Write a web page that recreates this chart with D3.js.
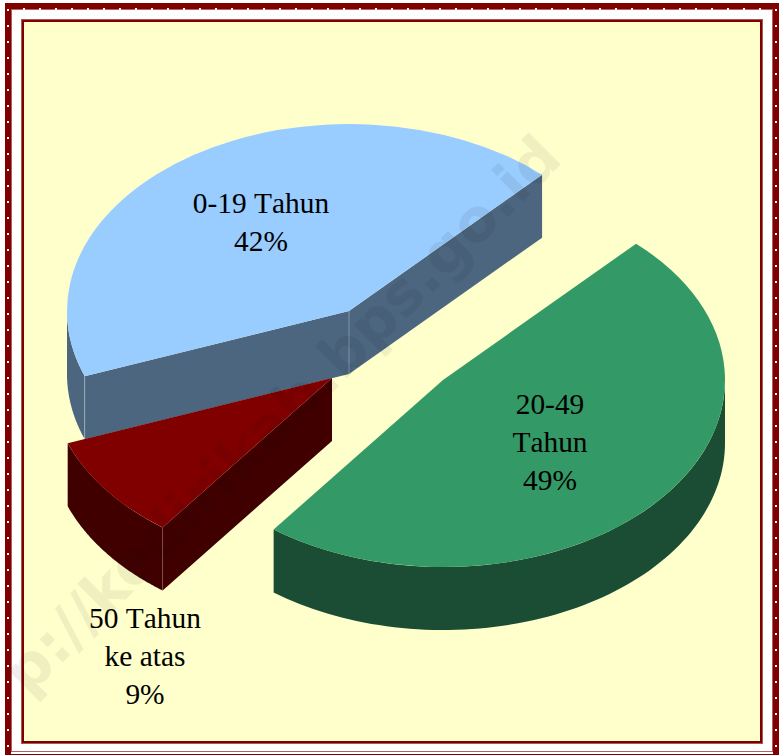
<!DOCTYPE html>
<html><head><meta charset="UTF-8">
<style>
html, body { margin: 0; padding: 0; background: #fff; }
svg { display: block; }
.label { font-family: "Liberation Serif", serif; font-size: 29.4px; fill: #000; text-anchor: middle; font-kerning: none; }
.mark { font-family: "DejaVu Sans", sans-serif; font-weight: bold; font-size: 59.5px; fill: #000; opacity: .06; text-anchor: end; }
</style>
<script src="https://cdn.jsdelivr.net/npm/d3@7"></script>
</head><body>
<div id="chart"></div>
<script>
// chart values, slices go clockwise from the blue one
// shares are read off the drawn slices, percents are the printed labels
var categories = [["0-19 Tahun"], ["20-49", "Tahun"], ["50 Tahun", "ke atas"]];
var shares = [42.67, 48.25, 9.08];
var percents = ["42%", "49%", "9%"];
var topColors = ["#99ccff", "#339966", "#800000"];
var sideColors = ["#4d6680", "#1a4d33", "#400000"];

var width = 782, height = 755;
var rx = 282, ry = 187, depth = 63;

// where each slice's apex sits after being pulled out, and its label
var apex = [[349, 311], [443, 380], [332, 378]];
var labelPos = [[261, 213], [550, 414], [145, 628]];

var svg = d3.select("#chart").append("svg")
    .attr("width", width).attr("height", height);

// frame
svg.append("rect").attr("width", width).attr("height", height).attr("fill", "#fff");

function band(x0, y0, x1, y1, w, color) {
  svg.append("rect")
    .attr("x", x0 + w / 2).attr("y", y0 + w / 2)
    .attr("width", x1 - x0 - w).attr("height", y1 - y0 - w)
    .attr("fill", "none").attr("stroke", color).attr("stroke-width", w);
}
band(5, 3, 779, 760, 6, "#800000");
band(11, 9, 773, 752, 1, "#b06060");
svg.append("rect").attr("x", 24).attr("y", 22).attr("width", 736).attr("height", 719).attr("fill", "#ffffcc");
band(21, 19, 763, 744, 3, "#800000");
band(21, 19, 763, 744, 1, "#a85858");

var dotsX = d3.range(24, 770, 16), dotsY = d3.range(9, 750, 16);
svg.selectAll(".dotTop").data(dotsX).enter().append("rect")
    .attr("x", d => d - 1).attr("y", 8).attr("width", 2).attr("height", 2).attr("fill", "#fff");
svg.selectAll(".dotBottom").data(dotsX).enter().append("rect")
    .attr("x", d => d - 1).attr("y", 752).attr("width", 2).attr("height", 2).attr("fill", "#fff");
svg.selectAll(".dotLeft").data(dotsY).enter().append("rect")
    .attr("x", 7).attr("y", d => d).attr("width", 2).attr("height", 2).attr("fill", "#fff");
svg.selectAll(".dotRight").data(dotsY).enter().append("rect")
    .attr("x", 775).attr("y", d => d).attr("width", 2).attr("height", 2).attr("fill", "#fff");

// pie angles
var startAngle = -110.4 * Math.PI / 180;
var pie = d3.pie().sort(null)
    .startAngle(startAngle)
    .endAngle(startAngle + 2 * Math.PI);
var slices = pie(shares);

var arc = d3.arc().innerRadius(0).outerRadius(rx);
var squash = ry / rx;

function px(a) { return rx * Math.sin(a); }
function py(a) { return -ry * Math.cos(a); }

// outside wall, only the part facing the viewer (90 to 270 degrees)
var rim = d3.area()
    .x(a => px(a))
    .y0(a => py(a))
    .y1(a => py(a) + depth);

function visibleRim(d) {
  var a0 = d.startAngle, a1 = d.endAngle, lo = Math.PI / 2, hi = 3 * Math.PI / 2;
  if (a0 < 0) { a0 += 2 * Math.PI; a1 += 2 * Math.PI; }
  var s = Math.max(a0, lo), e = Math.min(a1, hi);
  if (e <= s) return null;
  var n = 80;
  return d3.range(n + 1).map(i => s + (e - s) * i / n);
}

// flat cut wall from the centre out to angle a
function cutWall(a) {
  var p = d3.path();
  p.moveTo(0, 0);
  p.lineTo(px(a), py(a));
  p.lineTo(px(a), py(a) + depth);
  p.lineTo(0, depth);
  p.closePath();
  return p.toString();
}

function seam(g, x, y, op) {
  g.append("line")
    .attr("x1", x).attr("x2", x).attr("y1", y).attr("y2", y + depth)
    .attr("stroke", "#fff").attr("stroke-opacity", op).attr("stroke-width", 1);
}

slices.forEach(function(d, i) {
  var g = svg.append("g").attr("transform", "translate(" + apex[i] + ")");

  // which cut faces look towards us
  if (Math.sin(d.startAngle) < 0) {
    g.append("path").attr("d", cutWall(d.startAngle)).attr("fill", sideColors[i]);
  }
  if (Math.sin(d.endAngle) > 0) {
    g.append("path").attr("d", cutWall(d.endAngle)).attr("fill", sideColors[i]);
  }

  var angles = visibleRim(d);
  if (angles) {
    g.append("path").attr("d", rim(angles)).attr("fill", sideColors[i]);
  }

  // thin lighter lines on the corners of the blue and red blocks
  if (i == 0) {
    seam(g, 0, 0, .3);
    seam(g, px(d.startAngle), py(d.startAngle), .3);
  }
  if (i == 2) {
    seam(g, px(d.startAngle), py(d.startAngle), .12);
  }

  g.append("g").attr("transform", "scale(1," + squash + ")")
    .append("path")
    .attr("d", arc(d))
    .attr("fill", topColors[i]);
});

// labels
categories.forEach(function(lines, i) {
  var rows = lines.concat(percents[i]);
  svg.selectAll(".lab" + i).data(rows).enter().append("text")
      .attr("class", "label")
      .attr("x", labelPos[i][0])
      .attr("y", (d, j) => labelPos[i][1] + j * 38)
      .text(d => d);
});

// watermark, the start of the address runs off the page corner in the original
svg.append("text")
    .attr("class", "mark")
    .attr("transform", "translate(564,161) rotate(-45)")
    .text("p://kedirikab.bps.go.id");
</script>
</body></html>
